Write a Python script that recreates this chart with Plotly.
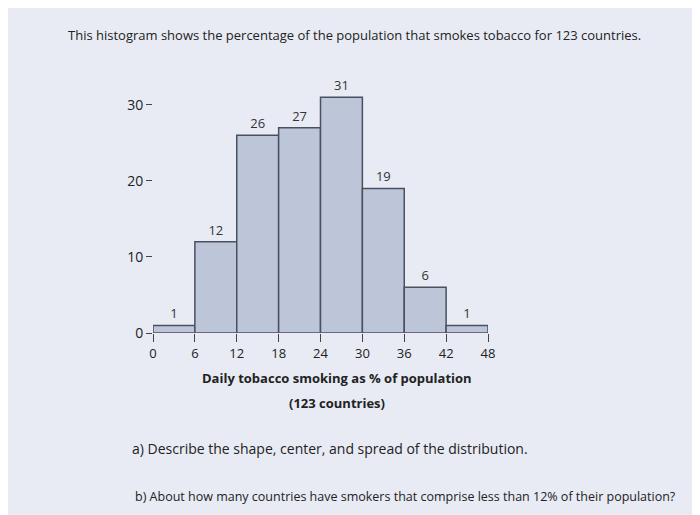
import plotly.graph_objects as go

bin_starts = [0, 6, 12, 18, 24, 30, 36, 42]
counts = [1, 12, 26, 27, 31, 19, 6, 1]
x_ticks = [0, 6, 12, 18, 24, 30, 36, 42, 48]
y_ticks = [0, 10, 20, 30]

fig = go.Figure(go.Bar(
    x=[s + 3 for s in bin_starts], y=counts, width=6,
    text=[str(c) for c in counts], textposition="outside", cliponaxis=False,
    textfont=dict(size=13, color="#333"),
    marker=dict(color="#bcc6d8", line=dict(color="#4a5060", width=1.5)),
))
fig.update_layout(
    width=700, height=515, paper_bgcolor="#e8ebf4", plot_bgcolor="#e8ebf4",
    margin=dict(l=145, r=220, t=74, b=190), showlegend=False,
    font=dict(family="Open Sans", color="#222"),
    xaxis=dict(range=[0, 48], tickvals=x_ticks, ticks="outside", ticklen=8,
               tickcolor="#444", showgrid=False, zeroline=False,
               tickfont=dict(size=13)),
    yaxis=dict(range=[0, 33], tickvals=y_ticks, ticks="outside", ticklen=6,
               tickcolor="#444", showgrid=False, zeroline=False,
               tickfont=dict(size=14)),
)
ann = [
    (-0.26, 1.187, "This histogram shows the percentage of the population that smokes tobacco for 123 countries.", 13, "left"),
    (0.55, -0.18, "<b>Daily tobacco smoking as % of population</b>", 13, "center"),
    (0.55, -0.28, "<b>(123 countries)</b>", 13, "center"),
    (-0.07, -0.46, "a) Describe the shape, center, and spread of the distribution.", 14, "left"),
    (-0.06, -0.65, "b) About how many countries have smokers that comprise less than 12% of their population?", 12.5, "left"),
]
for x, y, t, s, a in ann:
    fig.add_annotation(x=x, y=y, xref="paper", yref="paper", text=t, showarrow=False,
                       xanchor=a, yanchor="middle", font=dict(size=s, color="#222"))
fig.write_html("out.html")
